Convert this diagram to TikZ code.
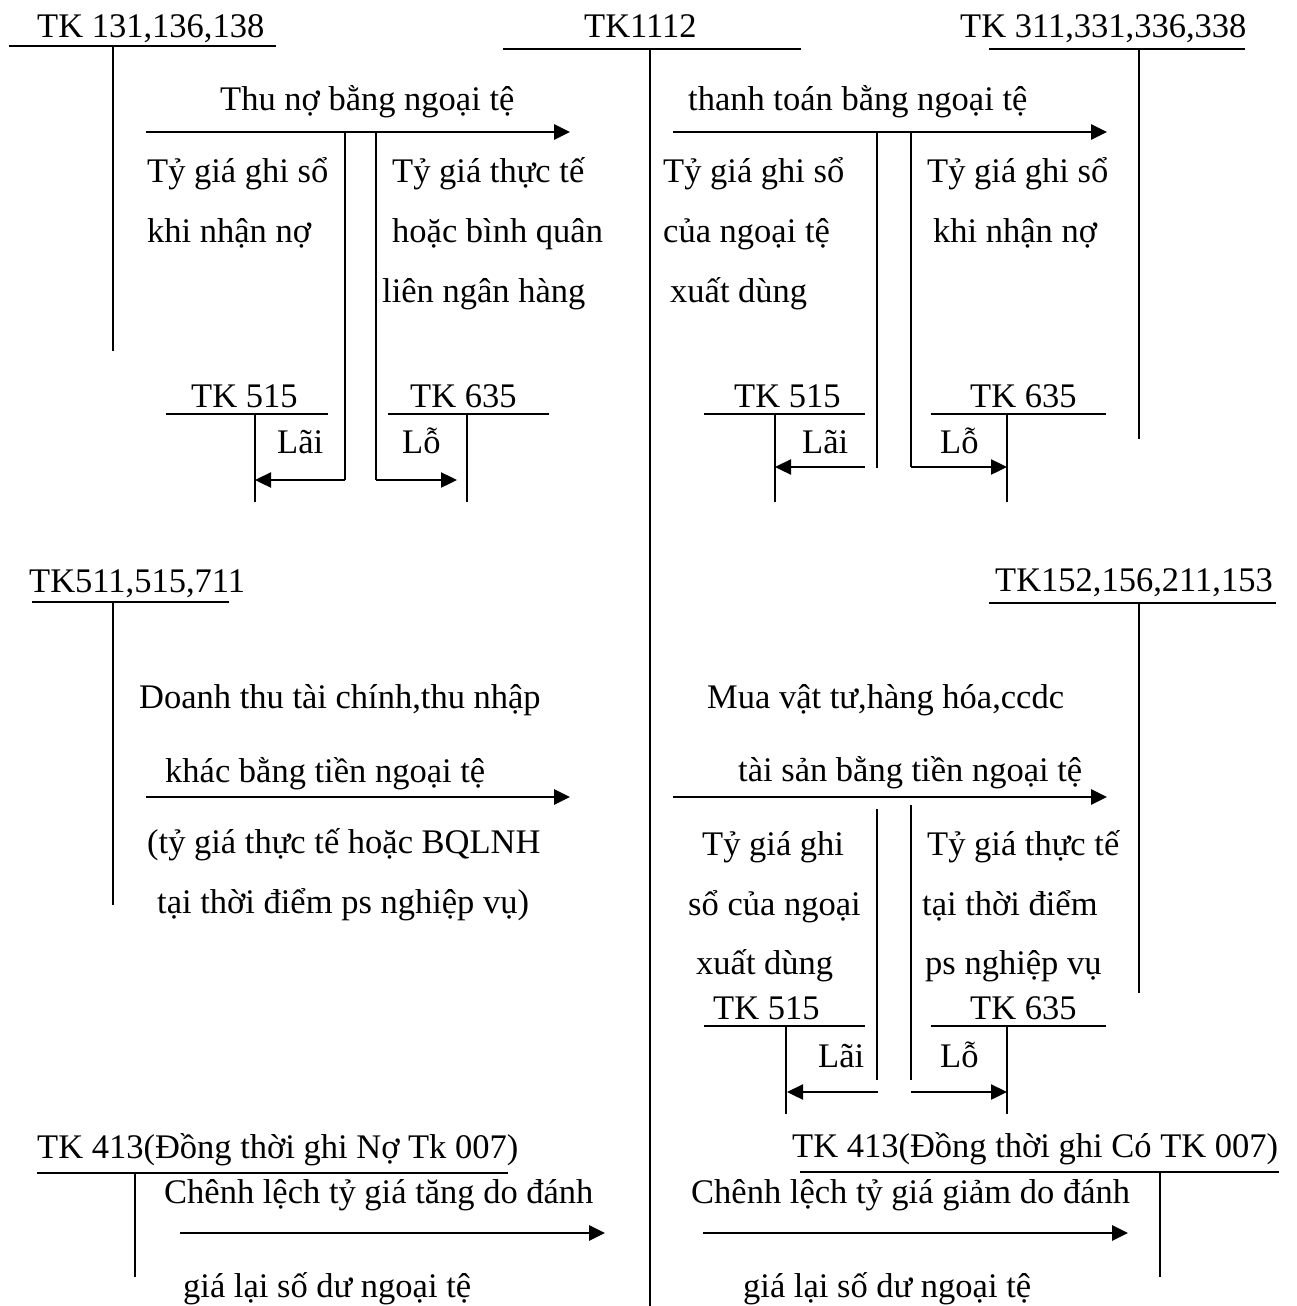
\documentclass[tikz,border=0pt]{standalone}
\usepackage{fontspec}
\setmainfont{Liberation Serif}
\usetikzlibrary{arrows.meta}
\begin{document}
\begin{tikzpicture}[x=1pt,y=-1pt,
  txt/.style={inner sep=0pt, anchor=base west, font=\fontsize{34.5}{40}\selectfont},
  tline/.style={line width=1.6pt},
  arr/.style={line width=2.8pt, -{Triangle[length=16pt,width=15pt]}},
  sarr/.style={line width=2.4pt, -{Triangle[length=16pt,width=15pt]}},
  ]
\useasboundingbox (0,0) rectangle (1296,1306);

% ===== TK 131,136,138 =====
\node[txt] (hA) at (37,38) {TK 131,136,138};
\coordinate (A1) at (9,46); \coordinate (A2) at (276,46);
\coordinate (A3) at (113,46); \coordinate (A4) at (113,351);
\draw[tline] (A1) -- (A2); \draw[tline] (A3) -- (A4);

% ===== TK1112 =====
\node[txt] (hC) at (584,38) {TK1112};
\coordinate (C1) at (503,49); \coordinate (C2) at (801,49);
\coordinate (C3) at (650,49); \coordinate (C4) at (650,1306);
\draw[tline] (C1) -- (C2); \draw[tline] (C3) -- (C4);

% ===== TK 311,331,336,338 =====
\node[txt] (hB) at (960,38) {TK 311,331,336,338};
\coordinate (B1) at (989,49); \coordinate (B2) at (1245,49);
\coordinate (B3) at (1139,49); \coordinate (B4) at (1139,439);
\draw[tline] (B1) -- (B2); \draw[tline] (B3) -- (B4);

% ----- Thu no bang ngoai te -----
\node[txt] (t1) at (220,110) {Thu nợ bằng ngoại tệ};
\coordinate (r1s) at (146,132); \coordinate (r1e) at (570,132);
\draw[arr] (r1s) -- (r1e);
\node[txt] (t1a) at (147,182) {Tỷ giá ghi sổ};
\node[txt] (t1b) at (147,242) {khi nhận nợ};
\node[txt] (t1c) at (392,182) {Tỷ giá thực tế};
\node[txt] (t1d) at (392,242) {hoặc bình quân};
\node[txt] (t1e) at (382,302) {liên ngân hàng};
% TK 515 (left)
\node[txt] (k1) at (191,407) {TK 515};
\coordinate (k1a) at (166,414); \coordinate (k1b) at (328,414);
\coordinate (k1c) at (255,414); \coordinate (k1d) at (255,502);
\draw[tline] (k1a) -- (k1b); \draw[tline] (k1c) -- (k1d);
\node[txt] (l1) at (277,453) {Lãi};
% TK 635 (left)
\node[txt] (k2) at (410,407) {TK 635};
\coordinate (k2a) at (388,414); \coordinate (k2b) at (549,414);
\coordinate (k2c) at (467,414); \coordinate (k2d) at (467,502);
\draw[tline] (k2a) -- (k2b); \draw[tline] (k2c) -- (k2d);
\node[txt] (l2) at (402,453) {Lỗ};
% branches
\coordinate (p1) at (345,132); \coordinate (p1b) at (345,480); \coordinate (p1e) at (255,480);
\draw[tline] (p1) -- (p1b);
\draw[sarr] (p1b) -- (p1e);
\coordinate (p2) at (376,131); \coordinate (p2b) at (376,480); \coordinate (p2e) at (457,480);
\draw[tline] (p2) -- (p2b);
\draw[sarr] (p2b) -- (p2e);

% ----- thanh toan bang ngoai te -----
\node[txt] (t2) at (688,110) {thanh toán bằng ngoại tệ};
\coordinate (r2s) at (673,132); \coordinate (r2e) at (1107,132);
\draw[arr] (r2s) -- (r2e);
\node[txt] (t2a) at (663,182) {Tỷ giá ghi sổ};
\node[txt] (t2b) at (663,242) {của ngoại tệ};
\node[txt] (t2c) at (670,302) {xuất dùng};
\node[txt] (t2d) at (927,182) {Tỷ giá ghi sổ};
\node[txt] (t2e) at (933,242) {khi nhận nợ};
% TK 515 (right)
\node[txt] (k3) at (734,407) {TK 515};
\coordinate (k3a) at (704,414); \coordinate (k3b) at (865,414);
\coordinate (k3c) at (775,414); \coordinate (k3d) at (775,502);
\draw[tline] (k3a) -- (k3b); \draw[tline] (k3c) -- (k3d);
\node[txt] (l3) at (802,453) {Lãi};
% TK 635 (right)
\node[txt] (k4) at (970,407) {TK 635};
\coordinate (k4a) at (931,414); \coordinate (k4b) at (1106,414);
\coordinate (k4c) at (1007,414); \coordinate (k4d) at (1007,502);
\draw[tline] (k4a) -- (k4b); \draw[tline] (k4c) -- (k4d);
\node[txt] (l4) at (940,453) {Lỗ};
% branches
\coordinate (q1) at (877,132); \coordinate (q1b) at (877,468);
\draw[tline] (q1) -- (q1b);
\coordinate (q1s) at (865,467); \coordinate (q1e) at (775,467);
\draw[sarr] (q1s) -- (q1e);
\coordinate (q2) at (911,132); \coordinate (q2b) at (911,467); \coordinate (q2e) at (1007,467);
\draw[tline] (q2) -- (q2b);
\draw[sarr] (q2b) -- (q2e);

% ===== TK511,515,711 =====
\node[txt] (hD) at (29,592) {TK511,515,711};
\coordinate (D1) at (32,602); \coordinate (D2) at (229,602);
\coordinate (D3) at (113,602); \coordinate (D4) at (113,905);
\draw[tline] (D1) -- (D2); \draw[tline] (D3) -- (D4);
\node[txt] (t3a) at (139,708) {Doanh thu tài chính,thu nhập};
\node[txt] (t3b) at (165,782) {khác bằng tiền ngoại tệ};
\coordinate (r3s) at (146,797); \coordinate (r3e) at (570,797);
\draw[arr] (r3s) -- (r3e);
\node[txt] (t3c) at (147,853) {(tỷ giá thực tế hoặc BQLNH};
\node[txt] (t3d) at (157,913) {tại thời điểm ps nghiệp vụ)};

% ===== TK152,156,211,153 =====
\node[txt] (hE) at (995,591) {TK152,156,211,153};
\coordinate (E1) at (989,603); \coordinate (E2) at (1276,603);
\coordinate (E3) at (1139,603); \coordinate (E4) at (1139,993);
\draw[tline] (E1) -- (E2); \draw[tline] (E3) -- (E4);
\node[txt] (t4a) at (707,708) {Mua vật tư,hàng hóa,ccdc};
\node[txt] (t4b) at (738,781) {tài sản bằng tiền ngoại tệ};
\coordinate (r4s) at (673,797); \coordinate (r4e) at (1107,797);
\draw[arr] (r4s) -- (r4e);
\node[txt] (t4c) at (702,855) {Tỷ giá ghi};
\node[txt] (t4d) at (688,915) {sổ của ngoại};
\node[txt] (t4e) at (696,974) {xuất dùng};
\node[txt] (t4f) at (927,855) {Tỷ giá thực tế};
\node[txt] (t4g) at (922,915) {tại thời điểm};
\node[txt] (t4h) at (925,974) {ps nghiệp vụ};
\coordinate (s1) at (877,809); \coordinate (s1b) at (877,1080);
\coordinate (s2) at (911,805); \coordinate (s2b) at (911,1080);
\draw[tline] (s1) -- (s1b); \draw[tline] (s2) -- (s2b);
% TK 515 (lower)
\node[txt] (k5) at (713,1019) {TK 515};
\coordinate (k5a) at (704,1026); \coordinate (k5b) at (865,1026);
\coordinate (k5c) at (786,1026); \coordinate (k5d) at (786,1114);
\draw[tline] (k5a) -- (k5b); \draw[tline] (k5c) -- (k5d);
\node[txt] (l5) at (818,1067) {Lãi};
% TK 635 (lower)
\node[txt] (k6) at (970,1019) {TK 635};
\coordinate (k6a) at (931,1026); \coordinate (k6b) at (1106,1026);
\coordinate (k6c) at (1007,1026); \coordinate (k6d) at (1007,1114);
\draw[tline] (k6a) -- (k6b); \draw[tline] (k6c) -- (k6d);
\node[txt] (l6) at (940,1067) {Lỗ};
\coordinate (u1s) at (878,1092); \coordinate (u1e) at (787,1092);
\draw[sarr] (u1s) -- (u1e);
\coordinate (u2s) at (911,1092); \coordinate (u2e) at (1007,1092);
\draw[sarr] (u2s) -- (u2e);

% ===== TK 413 (left) =====
\node[txt] (hF) at (37,1158) {TK 413(Đồng thời ghi Nợ Tk 007)};
\coordinate (F1) at (37,1173); \coordinate (F2) at (508,1173);
\coordinate (F3) at (135,1173); \coordinate (F4) at (135,1277);
\draw[tline] (F1) -- (F2); \draw[tline] (F3) -- (F4);
\node[txt] (t5a) at (164,1203) {Chênh lệch tỷ giá tăng do đánh};
\coordinate (r5s) at (180,1233); \coordinate (r5e) at (605,1233);
\draw[arr] (r5s) -- (r5e);
\node[txt] (t5b) at (183,1297) {giá lại số dư ngoại tệ};

% ===== TK 413 (right) =====
\node[txt] (hG) at (792,1157) {TK 413(Đồng thời ghi Có TK 007)};
\coordinate (G1) at (800,1172); \coordinate (G2) at (1279,1172);
\coordinate (G3) at (1160,1172); \coordinate (G4) at (1160,1277);
\draw[tline] (G1) -- (G2); \draw[tline] (G3) -- (G4);
\node[txt] (t6a) at (691,1203) {Chênh lệch tỷ giá giảm do đánh};
\coordinate (r6s) at (703,1233); \coordinate (r6e) at (1128,1233);
\draw[arr] (r6s) -- (r6e);
\node[txt] (t6b) at (743,1297) {giá lại số dư ngoại tệ};
\end{tikzpicture}
\end{document}
